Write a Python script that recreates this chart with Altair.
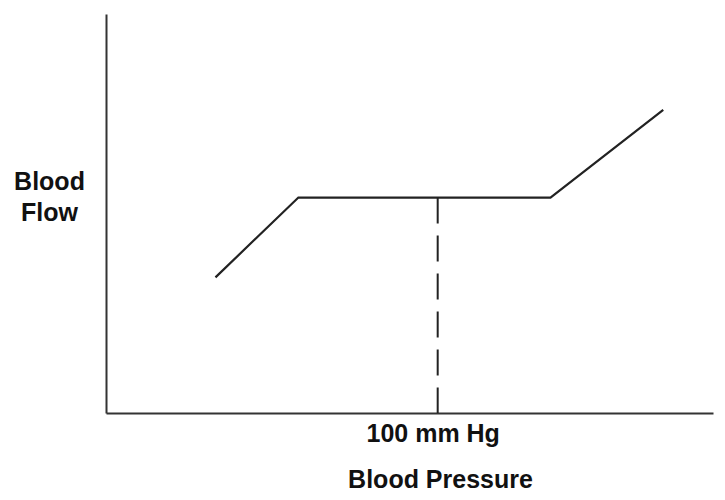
import altair as alt
import pandas as pd

# Schematic autoregulation curve (arbitrary units)
pressure = [33, 58, 134, 168]      # blood pressure (mm Hg-ish)
flow = [34, 54, 54, 76]            # blood flow (arbitrary)
marker_pressure = [100]
marker_flow = [54]

curve = pd.DataFrame({"pressure": pressure, "flow": flow})
marker = pd.DataFrame({"pressure": marker_pressure, "flow": marker_flow, "base": [0]})

FONT = "Liberation Sans"

xscale = alt.Scale(domain=[0, 183], nice=False, zero=False)
yscale = alt.Scale(domain=[0, 100], nice=False, zero=False)

line = alt.Chart(curve).mark_line(color="#222222", strokeWidth=2.2).encode(
    x=alt.X("pressure:Q", scale=xscale,
            axis=alt.Axis(values=[100], labelExpr="'100 mm Hg'", ticks=False, grid=False,
                          domainColor="#333333", domainWidth=2,
                          labelFont=FONT, labelFontSize=25, labelFontWeight="bold",
                          labelColor="#111111", labelPadding=8, labelAlign="center",
                          labelOffset=-5,
                          title="Blood Pressure", titleFont=FONT, titleFontSize=25,
                          titleFontWeight="bold", titleColor="#111111",
                          titleX=334, titleY=74, titleAlign="center",
                          titleBaseline="alphabetic")),
    y=alt.Y("flow:Q", scale=yscale,
            axis=alt.Axis(labels=False, ticks=False, grid=False,
                          domainColor="#333333", domainWidth=2,
                          title=["Blood", "Flow"], titleAngle=0,
                          titleFont=FONT, titleFontSize=25, titleFontWeight="bold",
                          titleColor="#111111", titleX=-57, titleY=175,
                          titleAlign="center", titleBaseline="alphabetic",
                          titleLineHeight=31)),
)

dash = alt.Chart(marker).mark_rule(color="#222222", strokeWidth=2, strokeDash=[26, 12]).encode(
    x=alt.X("pressure:Q", scale=xscale),
    y=alt.Y("flow:Q", scale=yscale),
    y2="base:Q",
)

chart = (dash + line).properties(
    width=607, height=399,
    padding={"left": 98, "top": 6, "right": 4, "bottom": 79},
    autosize=alt.AutoSizeParams(type="none"),
    background="white",
).configure_view(stroke=None)

chart.save("out.html", embed_options={"renderer": "svg", "actions": False})
